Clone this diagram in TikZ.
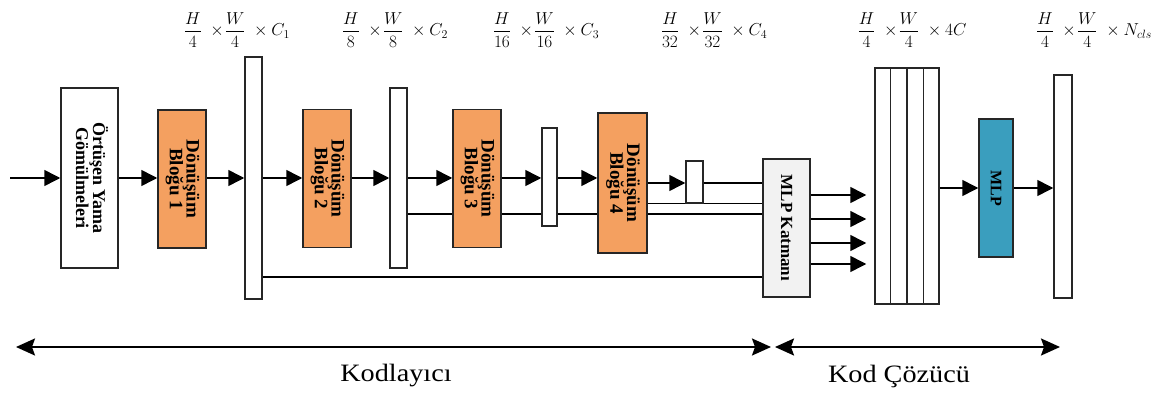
\documentclass[tikz,border=0pt]{standalone}
\usepackage{amsmath}
\usepackage{graphicx}
\usepackage{fontspec}
\setmainfont{Liberation Serif}
\usetikzlibrary{arrows.meta,calc,backgrounds}
\definecolor{blockorange}{RGB}{244,160,96}
\definecolor{mlpblue}{RGB}{58,158,190}
\definecolor{mlpgray}{RGB}{242,242,242}
\newcommand{\blocktext}[1]{\rotatebox{-90}{\bfseries\fontsize{19}{18}\selectfont\begin{tabular}{@{}c@{}}Dönüşüm\\[-2pt]Bloğu #1\end{tabular}}}
\begin{document}
\begin{tikzpicture}[x=1pt,y=-1pt,
  box/.style={draw=black!85, line width=1.5pt, inner sep=0pt, fill=white},
  blockbox/.style={box, fill=blockorange, minimum width=48pt, minimum height=138pt},
  arr/.style={line width=1.5pt, -{Triangle[length=16pt,width=16pt]}},
  ln/.style={line width=1.5pt},
  dimlbl/.style={font=\fontsize{18}{21}\selectfont},
  bigarr/.style={line width=2pt, {Stealth[length=19pt,width=17pt,inset=3pt]}-{Stealth[length=19pt,width=17pt,inset=3pt]}},
  sectxt/.style={font=\fontsize{25}{28}\selectfont}
]
\useasboundingbox (0,0) rectangle (1166,403);

% boxes
\node[box, minimum width=57pt, minimum height=180pt] (patch) at (89.5,178)
  {\rotatebox{-90}{\bfseries\fontsize{18}{18}\selectfont\begin{tabular}{@{}c@{}}Örtüşen Yama\\[-1pt]Gömülmeleri\end{tabular}}};
\node[blockbox] (b1) at (182,179) {\blocktext{1}};
\node[box, minimum width=17pt, minimum height=242pt] (bar1) at (253.5,178) {};
\node[blockbox] (b2) at (327,178.5) {\blocktext{2}};
\node[box, minimum width=17pt, minimum height=180pt] (bar2) at (398.5,178) {};
\node[blockbox] (b3) at (477,178.5) {\blocktext{3}};
\node[box, minimum width=15pt, minimum height=98pt] (bar3) at (549.5,177) {};
\node[blockbox, minimum width=49pt, minimum height=140pt] (b4) at (622.5,183) {\blocktext{4}};
\node[box, minimum width=17pt, minimum height=42pt] (bar4) at (694.5,182) {};
\node[box, fill=mlpgray, minimum width=47pt, minimum height=138pt] (mlpk) at (786.5,228)
  {\rotatebox{-90}{\bfseries\fontsize{17}{17}\selectfont MLP Katmanı}};
\node[box, minimum width=64pt, minimum height=236pt] (dec) at (907,186) {};
\node[box, fill=mlpblue, minimum width=34pt, minimum height=138pt] (mlp) at (996,188)
  {\rotatebox{-90}{\bfseries\fontsize{16}{16}\selectfont MLP}};
\node[box, minimum width=18pt, minimum height=223pt] (out) at (1063,186.5) {};

% decoder columns
\foreach \f in {0.25,0.5,0.75}
  \draw[line width=1.5pt, black!85] ($(dec.north west)!\f!(dec.north east)$) -- ($(dec.south west)!\f!(dec.south east)$);

% background skip lines
\coordinate (yA) at (0,277);
\coordinate (l2) at (404,214);
\begin{pgfonlayer}{background}
  \draw[ln] (bar1.east |- yA) -- (yA -| mlpk.west);
  \draw[ln] (l2) -- (l2 -| mlpk.west);
  \draw[ln] (b4.east |- bar4.south) -- (bar4.south -| mlpk.west);
\end{pgfonlayer}

% main arrows
\coordinate (in) at (10,178);
\draw[arr] (in) -- (in -| patch.west);
\draw[arr] (patch.east) -- (patch.east -| b1.west);
\draw[arr] (b1.east |- patch.east) -- (patch.east -| bar1.west);
\draw[arr] (bar1.east) -- (bar1.east -| b2.west);
\draw[arr] (b2.east |- bar1.east) -- (bar1.east -| bar2.west);
\draw[arr] (bar2.east) -- (bar2.east -| b3.west);
\draw[arr] (b3.east |- bar2.east) -- (bar2.east -| bar3.west);
\draw[arr] (bar3.east |- bar2.east) -- (bar2.east -| b4.west);
\draw[arr] (b4.east) -- (b4.east -| bar4.west);
\draw[ln] (bar4.east |- b4.east) -- (b4.east -| mlpk.west);

% MLP layer outputs
\foreach \yy in {195,219,243,264}{
  \coordinate (o\yy) at (0,\yy);
  \draw[arr, shorten >=8pt] (mlpk.east |- o\yy) -- (o\yy -| dec.west);
}
\draw[arr] (dec.east |- mlp.west) -- (mlp.west);
\draw[arr] (mlp.east) -- (mlp.east -| out.west);

% dimension labels
\node[dimlbl] (d1) at (237,30) {$\dfrac{H}{4}\;\times\!\dfrac{W}{4}\;\times C_1$};
\node[dimlbl] (d2) at (395,30) {$\dfrac{H}{8}\;\times\!\dfrac{W}{8}\;\times C_2$};
\node[dimlbl] (d3) at (546,30) {$\dfrac{H}{16}\;\times\!\dfrac{W}{16}\;\times C_3$};
\node[dimlbl] (d4) at (714,30) {$\dfrac{H}{32}\;\times\!\dfrac{W}{32}\;\times C_4$};
\node[dimlbl] (d5) at (912,30) {$\dfrac{H}{4}\;\times\!\dfrac{W}{4}\;\times 4C$};
\node[dimlbl] (d6) at (1094,30) {$\dfrac{H}{4}\;\times\!\dfrac{W}{4}\;\times N_{cls}$};

% encoder / decoder spans
\coordinate (encL) at (16,347);
\coordinate (encR) at (771,347);
\coordinate (decL) at (775,347);
\coordinate (decR) at (1060,347);
\draw[bigarr] (encL) -- (encR);
\draw[bigarr] (decL) -- (decR);
\node[sectxt] (enc) at (396,376) {\scalebox{1.13}[1]{Kodlayıcı}};
\node[sectxt] (dectxt) at (899,376) {\scalebox{1.13}[1]{Kod Çözücü}};
\end{tikzpicture}
\end{document}
